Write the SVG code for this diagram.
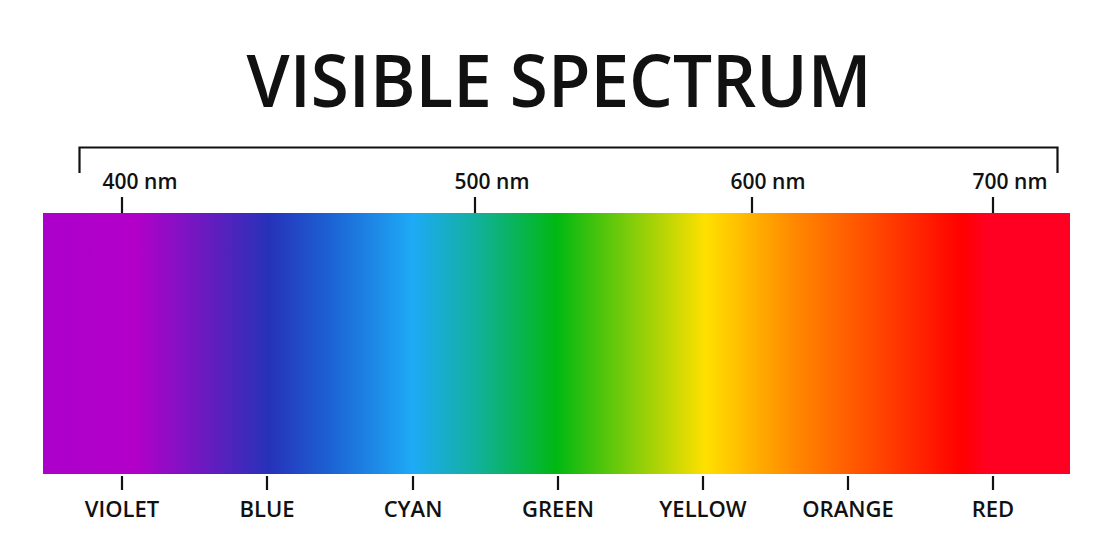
<svg xmlns="http://www.w3.org/2000/svg" width="1105" height="552" viewBox="0 0 1105 552">
<defs>
<linearGradient id="spec" gradientUnits="userSpaceOnUse" x1="43" y1="0" x2="1070" y2="0">
<stop offset="0" stop-color="#ac00cc"/>
<stop offset="0.09" stop-color="#b300c8"/>
<stop offset="0.22" stop-color="#2632b8"/>
<stop offset="0.28" stop-color="#1c62d4"/>
<stop offset="0.36" stop-color="#1eaaf6"/>
<stop offset="0.42" stop-color="#12b0a0"/>
<stop offset="0.5" stop-color="#00b812"/>
<stop offset="0.57" stop-color="#7ccc0a"/>
<stop offset="0.645" stop-color="#ffe000"/>
<stop offset="0.73" stop-color="#ff8a00"/>
<stop offset="0.82" stop-color="#ff4000"/>
<stop offset="0.895" stop-color="#ff0000"/>
<stop offset="0.92" stop-color="#ff0022"/>
<stop offset="1" stop-color="#ff0024"/>
</linearGradient>
</defs>
<style>
.t{font-family:"Open Sans","Liberation Sans",sans-serif;fill:#111;}
.title{font-size:73px;font-weight:600;}
.nm{font-size:21px;font-weight:600;}
.lbl{font-size:22px;font-weight:600;}
.ln{stroke:#111;stroke-width:2.2;fill:none;}
</style>
<rect width="1105" height="552" fill="#fff"/>
<g id="title"><text class="t title" x="559" y="107" text-anchor="middle" textLength="625" lengthAdjust="spacingAndGlyphs">VISIBLE SPECTRUM</text></g>
<g id="bracket"><path class="ln" d="M79.5 173 V147.5 H1057.5 V173"/></g>
<g id="spectrum"><rect x="43" y="213" width="1027" height="261" fill="url(#spec)"/></g>
<g id="connectors">
<path class="ln" d="M122 197 V213 M475 197 V213 M752 197 V213 M993 197 V213"/>
<path class="ln" d="M122 476 V490 M267 476 V490 M413 476 V490 M558 476 V490 M703 476 V490 M848 476 V490 M993 476 V490"/>
</g>
<g id="scale">
<text class="t nm" x="140" y="189" text-anchor="middle">400 nm</text>
<text class="t nm" x="492" y="189" text-anchor="middle">500 nm</text>
<text class="t nm" x="768" y="189" text-anchor="middle">600 nm</text>
<text class="t nm" x="1010" y="189" text-anchor="middle">700 nm</text>
</g>
<g id="labels">
<text class="t lbl" x="122" y="517" text-anchor="middle">VIOLET</text>
<text class="t lbl" x="267" y="517" text-anchor="middle">BLUE</text>
<text class="t lbl" x="413" y="517" text-anchor="middle">CYAN</text>
<text class="t lbl" x="558" y="517" text-anchor="middle">GREEN</text>
<text class="t lbl" x="703" y="517" text-anchor="middle">YELLOW</text>
<text class="t lbl" x="848" y="517" text-anchor="middle">ORANGE</text>
<text class="t lbl" x="993" y="517" text-anchor="middle">RED</text>
</g>
</svg>
